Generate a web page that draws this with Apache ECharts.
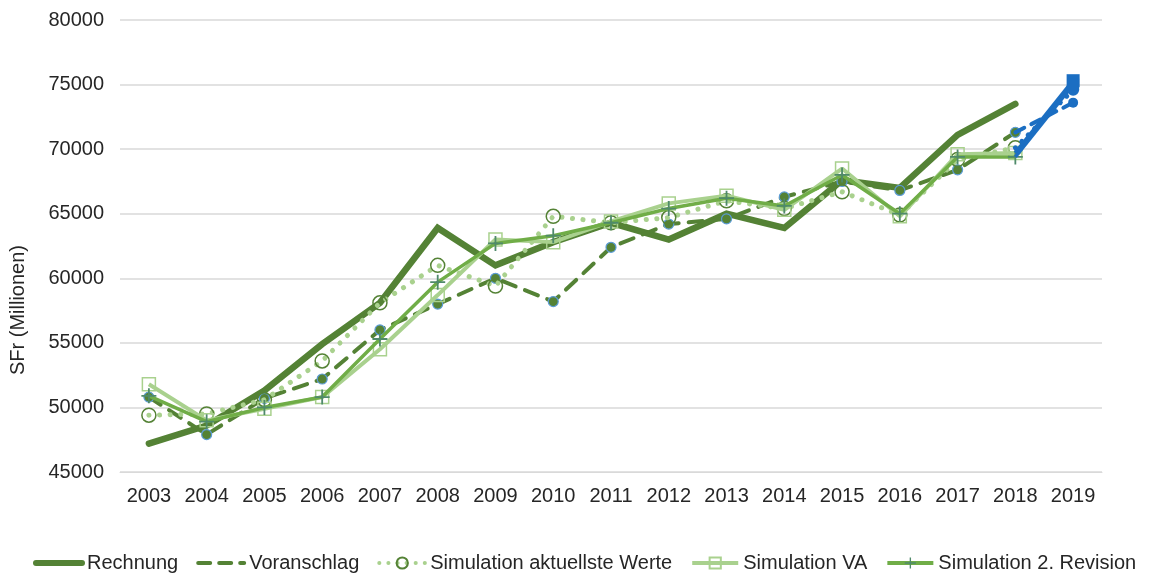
<!DOCTYPE html>
<html>
<head>
<meta charset="utf-8">
<script src="https://cdn.jsdelivr.net/npm/echarts@6/dist/echarts.min.js"></script>
<style>
  html, body { margin: 0; padding: 0; background: #fff; }
  #chart { width: 1149px; height: 577px; }
</style>
</head>
<body>
<div id="chart"></div>
<script>
// Jahre (Kategorien der x-Achse)
const years = ['2003','2004','2005','2006','2007','2008','2009','2010','2011','2012','2013','2014','2015','2016','2017','2018','2019'];

// Werte in Millionen SFr; letzter Eintrag = 2019 (Prognose)
const rechnung    = [47200, 48600, 51300, 54900, 58100, 63900, 61000, 62800, 64300, 63000, 65000, 63900, 67600, 67000, 71100, 73500, null];
const voranschlag = [50800, 47900, 50700, 52200, 56000, 58000, 60000, 58200, 62400, 64200, 64600, 66300, 67500, 66800, 68400, 71300, 73600];
const simAktuell  = [49400, 49500, 50600, 53600, 58100, 61000, 59400, 64800, 64300, 64700, 66000, 65400, 66700, 64900, 69200, 70100, 74600];
const simVA       = [51800, 49000, 49900, 50800, 54500, 58700, 63000, 62800, 64400, 65800, 66400, 65300, 68500, 64800, 69600, 69700, 75300];
const simRevision = [50900, 48900, 50000, 50800, 55300, 59700, 62700, 63300, 64300, 65400, 66200, 65600, 68000, 65000, 69400, 69400, 75000];

// y-Achse
const yMin = 45000, yMax = 80000, yStep = 5000;

const blue = '#1b6ec2';
const darkGreen = '#548235';
const lightGreen = '#a9d18e';
const midGreen = '#70ad47';
const crossColor = '#4f8a6a';
const lastIdx = years.length - 1;
const crossPath = 'path://M4.4,0h1.2v4.4h4.4v1.2h-4.4v4.4h-1.2v-4.4h-4.4v-1.2h4.4z';
const clear = 'rgba(255,255,255,0)';

// Bis 2018 (grün)
function upTo2018(arr) { return arr.map((v, i) => (i < lastIdx ? v : null)); }
// Segment 2018 -> 2019 (blau), Marker nur auf 2019
function segment2019(arr) {
  return arr.map((v, i) => {
    if (i === lastIdx - 1) return { value: v, symbol: 'none' };
    if (i === lastIdx) return v;
    return null;
  });
}

const chart = echarts.init(document.getElementById('chart'), null, { renderer: 'canvas' });

const font = 'Liberation Sans, Arial, sans-serif';
const textColor = '#262626';

const option = {
  animation: false,
  backgroundColor: '#ffffff',
  grid: { left: 120, right: 47, top: 20, bottom: 105 },
  legend: {
    left: 33,
    right: 0,
    bottom: 4,
    padding: 0,
    itemWidth: 46,
    itemHeight: 14,
    itemGap: 18,
    lineStyle: { width: 'inherit' },
    textStyle: { fontFamily: font, fontSize: 20, color: textColor },
    data: [
      { name: 'Rechnung', itemStyle: { color: clear, borderWidth: 0 }, lineStyle: { width: 6 } },
      { name: 'Voranschlag', itemStyle: { color: clear, borderWidth: 0 }, lineStyle: { width: 4, type: [12, 9] } },
      { name: 'Simulation aktuellste Werte', lineStyle: { width: 4, type: [0.1, 9] } },
      { name: 'Simulation VA', lineStyle: { width: 4 } },
      { name: 'Simulation 2. Revision', lineStyle: { width: 4 } }
    ]
  },
  xAxis: {
    type: 'category',
    data: years,
    boundaryGap: true,
    axisLine: { show: true, lineStyle: { color: '#d9d9d9', width: 1 } },
    axisTick: { show: false },
    axisLabel: { interval: 0, fontFamily: font, fontSize: 20, color: textColor, margin: 14 }
  },
  yAxis: {
    type: 'value',
    min: yMin,
    max: yMax,
    interval: yStep,
    name: 'SFr (Millionen)',
    nameLocation: 'middle',
    nameGap: 92,
    nameTextStyle: { fontFamily: font, fontSize: 20, color: textColor, padding: [0, 128, 0, 0] },
    axisLine: { show: false },
    axisTick: { show: false },
    axisLabel: { fontFamily: font, fontSize: 20, color: textColor, margin: 16, formatter: v => String(v) },
    splitLine: { lineStyle: { color: '#d9d9d9', width: 1.5 } }
  },
  series: [
    {
      name: 'Rechnung',
      type: 'line',
      data: upTo2018(rechnung),
      symbol: 'none',
      lineStyle: { color: darkGreen, width: 6.5, cap: 'round', join: 'miter' },
      itemStyle: { color: darkGreen },
      z: 2
    },
    {
      name: 'Voranschlag',
      type: 'line',
      data: upTo2018(voranschlag),
      symbol: 'circle',
      symbolSize: 10,
      showAllSymbol: true,
      lineStyle: { color: darkGreen, width: 4, type: [14, 10], cap: 'round' },
      itemStyle: { color: darkGreen, borderColor: '#5b9bd5', borderWidth: 1.2 },
      z: 3
    },
    {
      name: 'Simulation aktuellste Werte',
      type: 'line',
      data: upTo2018(simAktuell),
      symbol: 'circle',
      symbolSize: 14,
      showAllSymbol: true,
      lineStyle: { color: lightGreen, width: 5, type: [0.1, 10.5], cap: 'round' },
      itemStyle: { color: clear, borderColor: darkGreen, borderWidth: 1.5 },
      z: 4
    },
    {
      name: 'Simulation VA',
      type: 'line',
      data: upTo2018(simVA),
      symbol: 'rect',
      symbolSize: 13,
      showAllSymbol: true,
      lineStyle: { color: lightGreen, width: 4 },
      itemStyle: { color: clear, borderColor: lightGreen, borderWidth: 1.5 },
      z: 5
    },
    {
      name: 'Simulation 2. Revision',
      type: 'line',
      data: upTo2018(simRevision),
      symbol: crossPath,
      symbolSize: 15,
      showAllSymbol: true,
      lineStyle: { color: midGreen, width: 3.5 },
      itemStyle: { color: crossColor },
      z: 6
    },
    // Prognosesegment 2018 -> 2019
    {
      name: 'Voranschlag 2019',
      type: 'line',
      data: segment2019(voranschlag),
      symbol: 'circle',
      symbolSize: 10,
      lineStyle: { color: blue, width: 4, type: [10, 8], cap: 'round' },
      itemStyle: { color: blue },
      z: 7
    },
    {
      name: 'Simulation aktuellste Werte 2019',
      type: 'line',
      data: segment2019(simAktuell),
      symbol: 'circle',
      symbolSize: 12,
      lineStyle: { color: blue, width: 5, type: [0.1, 9], cap: 'round' },
      itemStyle: { color: blue },
      z: 7
    },
    {
      name: 'Simulation VA 2019',
      type: 'line',
      data: segment2019(simVA),
      symbol: 'rect',
      symbolSize: 13,
      lineStyle: { color: blue, width: 4 },
      itemStyle: { color: blue },
      z: 7
    },
    {
      name: 'Simulation 2. Revision 2019',
      type: 'line',
      data: segment2019(simRevision),
      symbol: 'rect',
      symbolSize: 12,
      lineStyle: { color: blue, width: 3.5 },
      itemStyle: { color: blue },
      z: 7
    }
  ]
};

chart.setOption(option);
</script>
</body>
</html>
